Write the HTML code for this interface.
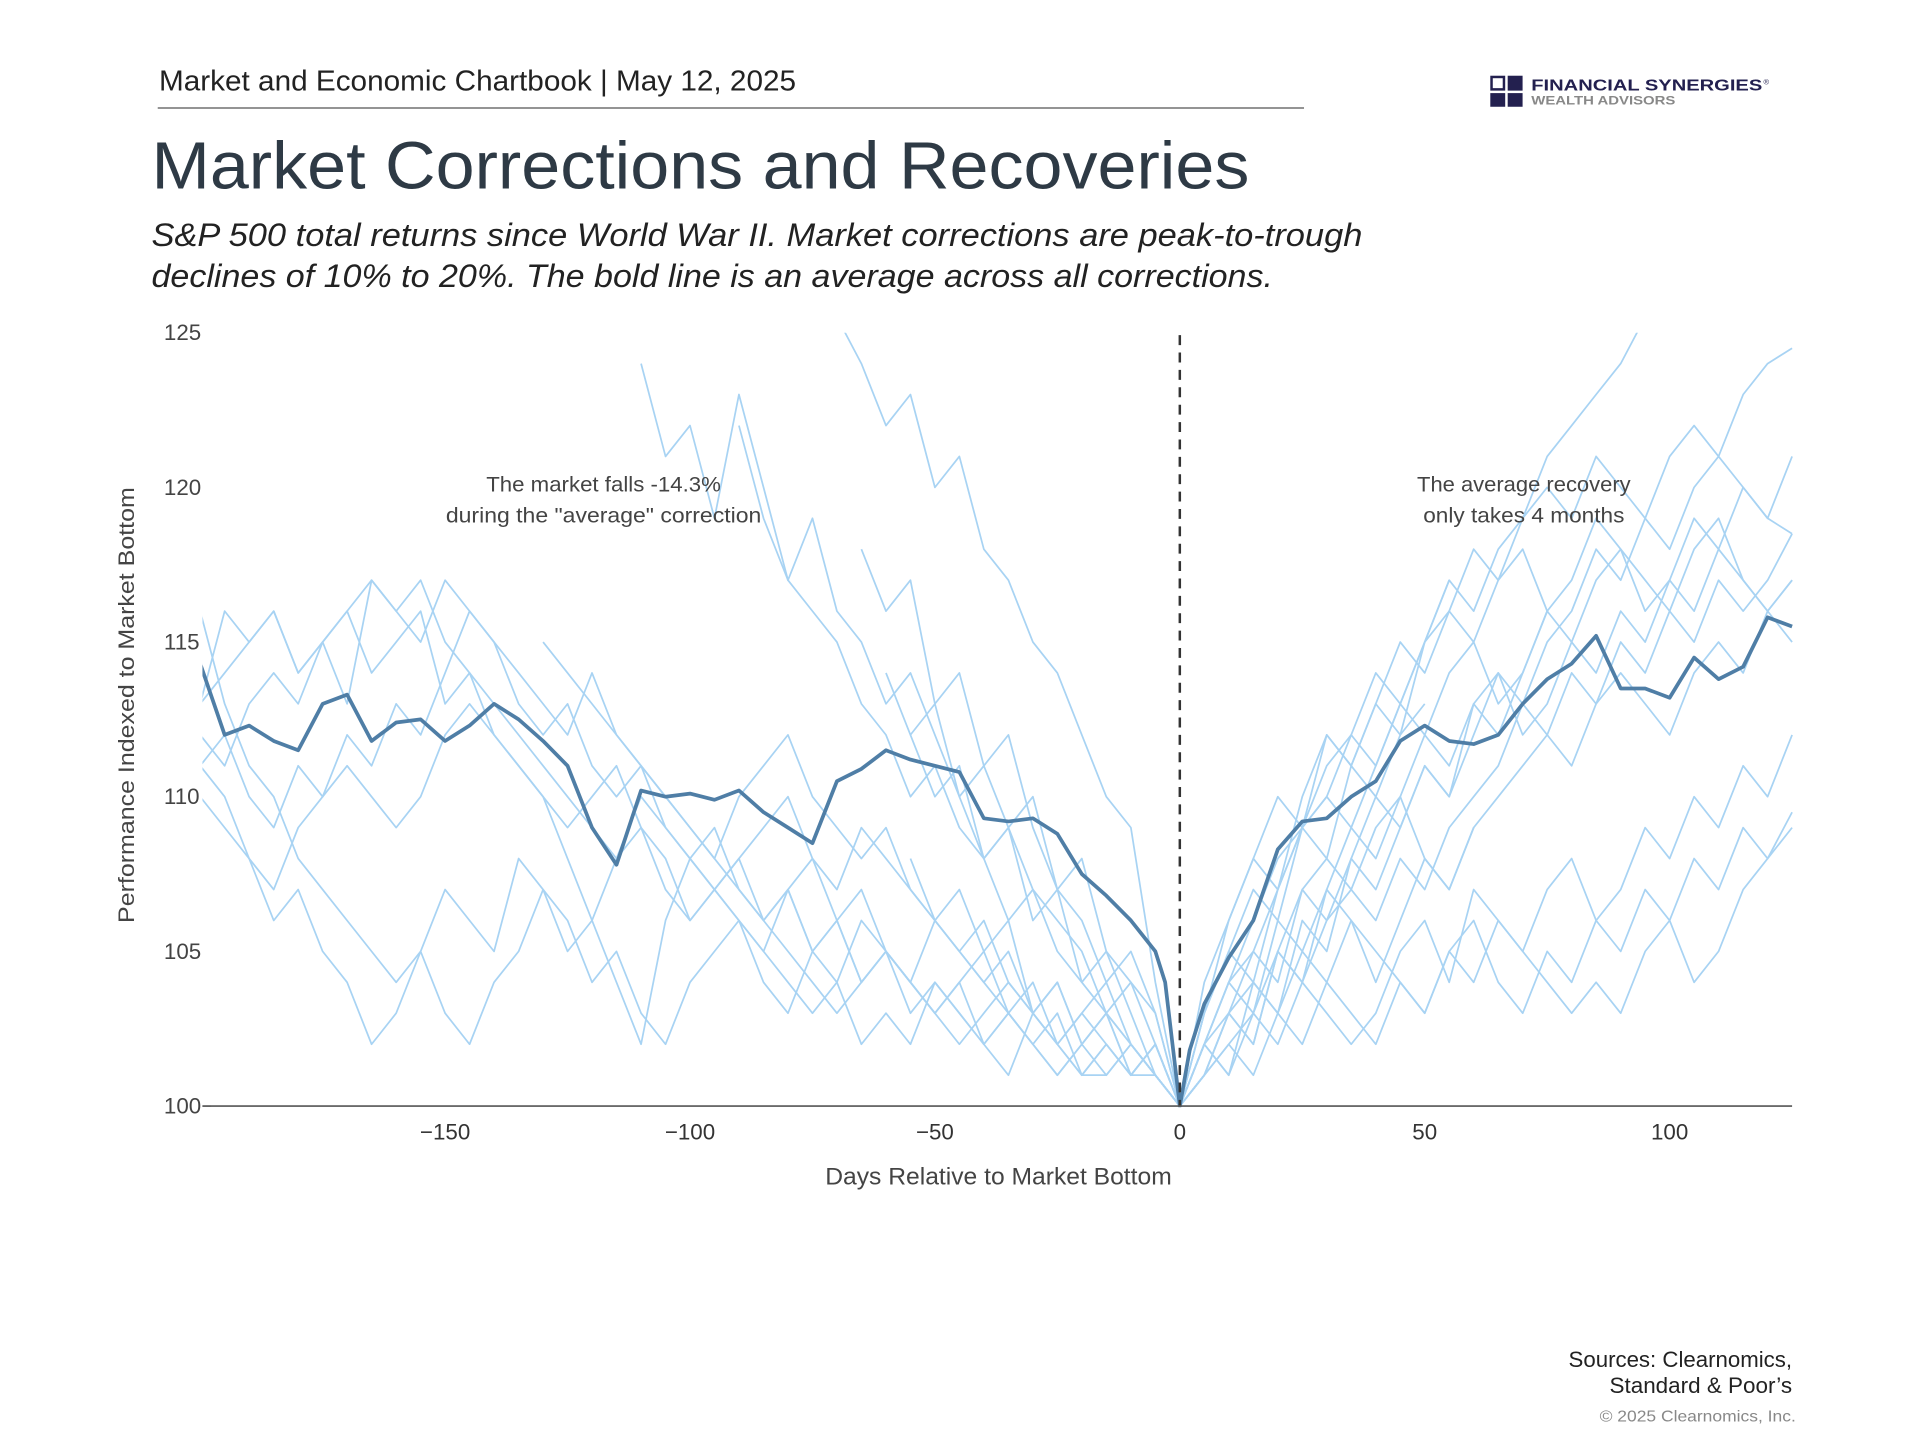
<!DOCTYPE html>
<html><head><meta charset="utf-8"><style>
html,body{margin:0;padding:0;background:#fff;}
svg{display:block;font-family:"Liberation Sans",sans-serif;}
</style></head><body>
<svg id="chart" width="1920" height="1440" viewBox="0 0 1546 1160" preserveAspectRatio="none" xmlns="http://www.w3.org/2000/svg">
<defs><clipPath id="plotclip"><rect x="163" y="268" width="1282" height="624"/></clipPath></defs>
<text x="128" y="73" font-size="23" fill="#222" textLength="513" lengthAdjust="spacingAndGlyphs">Market and Economic Chartbook | May 12, 2025</text>
<line x1="127" y1="87" x2="1050" y2="87" stroke="#555" stroke-width="1"/>
<g>
<rect x="1200" y="61" width="12" height="12" fill="#23204f"/><rect x="1214" y="61" width="12" height="12" fill="#23204f"/>
<rect x="1200" y="75" width="12" height="11" fill="#23204f"/><rect x="1214" y="75" width="12" height="11" fill="#23204f"/>
<rect x="1202" y="63" width="8" height="8" fill="#fff"/>
<text x="1233" y="73" font-size="13" font-weight="bold" fill="#23204f" textLength="186" lengthAdjust="spacingAndGlyphs">FINANCIAL SYNERGIES</text>
<text x="1420" y="68" font-size="6" fill="#23204f">®</text>
<text x="1233" y="84" font-size="9.5" font-weight="bold" fill="#888" textLength="116" lengthAdjust="spacingAndGlyphs">WEALTH ADVISORS</text>
</g>
<text x="122" y="152" font-size="54" fill="#2e3a45" textLength="884" lengthAdjust="spacingAndGlyphs">Market Corrections and Recoveries</text>
<text x="122" y="198" font-size="26" font-style="italic" fill="#222" textLength="975" lengthAdjust="spacingAndGlyphs">S&amp;P 500 total returns since World War II. Market corrections are peak-to-trough</text>
<text x="122" y="231" font-size="26" font-style="italic" fill="#222" textLength="903" lengthAdjust="spacingAndGlyphs">declines of 10% to 20%. The bold line is an average across all corrections.</text>
<g id="yticks"></g>
<g id="xticks"></g>
<text transform="translate(108,568) rotate(-90)" text-anchor="middle" font-size="18" fill="#444" textLength="351" lengthAdjust="spacingAndGlyphs">Performance Indexed to Market Bottom</text>
<text x="804" y="954" text-anchor="middle" font-size="19" fill="#444" textLength="279" lengthAdjust="spacingAndGlyphs">Days Relative to Market Bottom</text>
<g id="lines" clip-path="url(#plotclip)"></g>
<line x1="950" y1="270" x2="950" y2="891" stroke="#333" stroke-width="2" stroke-dasharray="8,6"/>
<line x1="163" y1="891" x2="1443" y2="891" stroke="#555" stroke-width="1.3"/>
<g font-size="17" fill="#444" text-anchor="middle">
<text x="486" y="396" textLength="189" lengthAdjust="spacingAndGlyphs">The market falls -14.3%</text><text x="486" y="421" textLength="254" lengthAdjust="spacingAndGlyphs">during the "average" correction</text></g>
<g font-size="17" fill="#444" text-anchor="middle">
<text x="1227" y="396" textLength="172" lengthAdjust="spacingAndGlyphs">The average recovery</text><text x="1227" y="421" textLength="162" lengthAdjust="spacingAndGlyphs">only takes 4 months</text></g>
<text x="1443" y="1101" text-anchor="end" font-size="18" fill="#222" textLength="180" lengthAdjust="spacingAndGlyphs">Sources: Clearnomics,</text>
<text x="1443" y="1122" text-anchor="end" font-size="18" fill="#222" textLength="147" lengthAdjust="spacingAndGlyphs">Standard &amp; Poor’s</text>
<text x="1446" y="1145" text-anchor="end" font-size="13" fill="#888" textLength="158" lengthAdjust="spacingAndGlyphs">© 2025 Clearnomics, Inc.</text>
</svg>
<script>
const yTicks=[100,105,110,115,120,125];
const xTicks=[-150,-100,-50,0,50,100];
const avgDays=[-200,-195,-190,-185,-180,-175,-170,-165,-160,-155,-150,-145,-140,-135,-130,-125,-120,-115,-110,-105,-100,-95,-90,-85,-80,-75,-70,-65,-60,-55,-50,-45,-40,-35,-30,-25,-20,-15,-10,-5,-3,0,2,5,10,15,20,25,30,35,40,45,50,55,60,65,70,75,80,85,90,95,100,105,110,115,120,125];
const avgValues=[114.3,112,112.3,111.8,111.5,113,113.3,111.8,112.4,112.5,111.8,112.3,113,112.5,111.8,111,109,107.8,110.2,110,110.1,109.9,110.2,109.5,109,108.5,110.5,110.9,111.5,111.2,111,110.8,109.3,109.2,109.3,108.8,107.5,106.8,106,105,104,100,101.8,103.3,104.8,106,108.3,109.2,109.3,110,110.5,111.8,112.3,111.8,111.7,112,113,113.8,114.3,115.2,113.5,113.5,113.2,114.5,113.8,114.2,115.8,115.5];
// light series: days ..0 (pre, right-aligned, step 5) and 5.. (post, step 5)
const seriesA_pre=[116,113,111,110,108,107,106,105,104,105,103,102,104,105,107,106,104,105,103,102,104,105,106,104,103,105,104,106,105,104,103,104,102,103,102,101,102,103,102,101,100];
const seriesA_post=[102,103,104,103,105,104,106,105,104,103,105,106,104,103,105,104,106,105,107,106,108,107,109,108,109.5];
const seriesB_pre=[111,110,108,106,107,105,104,102,103,105,107,106,105,108,107,105,106,108,109,107,106,107,108,106,107,105,106,104,105,103,104,103,102,103,102,103,101,102,101,101,100];
const seriesB_post=[101,102,103,105,104,106,107,106,108,107,109,110,111,113,112,114,113,115,114,116,115,117,116,117,118.5];
const seriesC_pre=[113,116,115,116,114,115,113,117,116,115,117,116,115,113,112,113,111,110,111,109,108,109,107,106,107,105,106,104,105,104,103,104,105,103,104,102,103,102,101,102,100];
const seriesC_post=[102,104,106,108,109,111,112,114,113,115,116,118,117,119,120,119,121,120,119,118,120,121,120,119,118.5];
const seriesD_pre=[112,111,113,114,113,115,116,114,115,116,113,114,112,111,110,109,110,111,109,108,106,107,108,109,110,108,107,109,108,107,106,105,106,104,103,102,103,104,102,101,100];
const seriesD_post=[103,105,107,106,109,110,112,111,113,115,117,116,118,119,121,122,123,124,125.5];
const seriesE_pre=[124,121,122,119,123,120,117,119,116,115,113,114,112,110,108,109,107,106,105,103,104,103,100];
const seriesE_post=[101,103,102,105,107,106,108,110,109,111,110,112,114,113,115,116,118,117,119,121,122,121,123,124,124.5];
const seriesF_pre=[111,112,110,109,111,110,112,111,113,112,114,116,115,114,113,112,114,112,111,110,109,108,110,111,112,110,109,108,109,107,106,105,104,105,103,104,102,103,101,102,100];
const seriesF_post=[101,103,105,104,107,108,107,109,110,108,107,109,110,111,112,111,113,114,113,112,114,115,114,116,117];
const seriesG_pre=[110,109,108,107,109,110,111,110,109,110,112,113,112,111,110,108,106,104,102,106,108,107,106,105,107,108,106,107,105,104,106,105,104,103,102,101,102,101,102,101,100];
const seriesG_post=[102,101,103,102,104,103,102,103,105,106,104,107,106,105,104,103,104,103,105,106,104,105,107,108,109];
const seriesH_pre=[125.5,124,122,123,120,121,118,117,115,114,112,110,109,104,100];
const seriesH_post=[103,106,108,107,110,112,111,113,115,114,116,115,117,118,116,117,119,118,117,116,118,119,117,116,115];
const seriesI_pre=[122,119,117,116,115,113,112,110,111,109,108,106,107,105,104,103,102,101,100];
const seriesI_post=[102,104,103,106,105,107,109,108,110,112,111,113,114,112,113,115,114,116,115,117,116,118,117,116,117];
const seriesJ_pre=[115,114,113,112,111,110,109,108,107,106,105,104,103,104,105,104,103,102,103,104,103,102,101,101,102,101,100];
const seriesJ_post=[101,102,101,103,102,104,103,102,104,103,105,104,106,105,107,108,106,107,109,108,110,109,111,110,112];
const seriesK_pre=[113,114,115,116,114,115,116,117,116,117,115,114,113,112,111,110,109,108,110,109,108,107,106,105,104,103,104,102,103,102,104,103,102,101,103,102,101,102,101,102,100];
const seriesK_post=[102,104,105,107,109,110,109,111,113,112,114,115,113,114,116,115,117,118,116,117,119,118,120,119,121];
const seriesL_pre=[112,110,111,108,109,106,107,104,105,103,101,100];
const seriesL_post=[103,105,104,107,109,108,111,110,112,113];
const seriesM_pre=[118,116,117,113,114,111,112,109,107,108,105,104,102,100];
const seriesM_post=[102,101,104,103,106,105,108,107,109,111,110,113,112,114,116];
const seriesN_pre=[108,106,107,105,106,103,104,102,103,101,102,100];
const seriesN_post=[104,106,108,110,109,112,111,113,112,115,117];
const seriesO_pre=[114,112,113,110,111,109,110,107,106,104,105,103,100];
const seriesO_post=[101,103,102,105,104,107,106,104,106,108,107,109];

const NS="http://www.w3.org/2000/svg";
const xs=d=>950+d*(1443-950)/125;
const ys=v=>891-(v-100)*(891-268)/25;
function mk(tag,attrs,parent){const e=document.createElementNS(NS,tag);for(const k in attrs)e.setAttribute(k,attrs[k]);parent.appendChild(e);return e;}
const yg=document.getElementById('yticks');
yTicks.forEach(t=>{const e=mk('text',{x:132,y:ys(t)+6,'font-size':18,fill:'#444'},yg);e.textContent=String(t);

});
mk('line',{x1:163,y1:891,x2:170,y2:891,stroke:'#555'},yg);
const xg=document.getElementById('xticks');
xTicks.forEach(t=>{const e=mk('text',{x:xs(t),y:918,'font-size':18,fill:'#333','text-anchor':'middle'},xg);e.textContent=t<0?'\u2212'+(-t):String(t);

});
const lg=document.getElementById('lines');
const light=[[seriesA_pre,seriesA_post],[seriesB_pre,seriesB_post],[seriesC_pre,seriesC_post],[seriesD_pre,seriesD_post],[seriesE_pre,seriesE_post],[seriesF_pre,seriesF_post],[seriesG_pre,seriesG_post],[seriesH_pre,seriesH_post],[seriesI_pre,seriesI_post],[seriesJ_pre,seriesJ_post],[seriesK_pre,seriesK_post],[seriesL_pre,seriesL_post],[seriesM_pre,seriesM_post],[seriesN_pre,seriesN_post],[seriesO_pre,seriesO_post]];
light.forEach((s,i)=>{const pre=s[0],post=s[1];let pts=[];
pre.forEach((v,j)=>{const d=-5*(pre.length-1-j);pts.push(xs(d).toFixed(1)+','+ys(v).toFixed(1));});
post.forEach((v,j)=>{const d=5*(j+1);pts.push(xs(d).toFixed(1)+','+ys(v).toFixed(1));});
const p=mk('polyline',{points:pts.join(' '),fill:'none',stroke:'#a8d3f3','stroke-width':1.4,'stroke-linejoin':'round'},lg);

});
const ap=avgDays.map((d,i)=>xs(d).toFixed(1)+','+ys(avgValues[i]).toFixed(1)).join(' ');
const avg=mk('polyline',{points:ap,fill:'none',stroke:'#4f7ea6','stroke-width':3,'stroke-linejoin':'round'},lg);


</script>
</body></html>
